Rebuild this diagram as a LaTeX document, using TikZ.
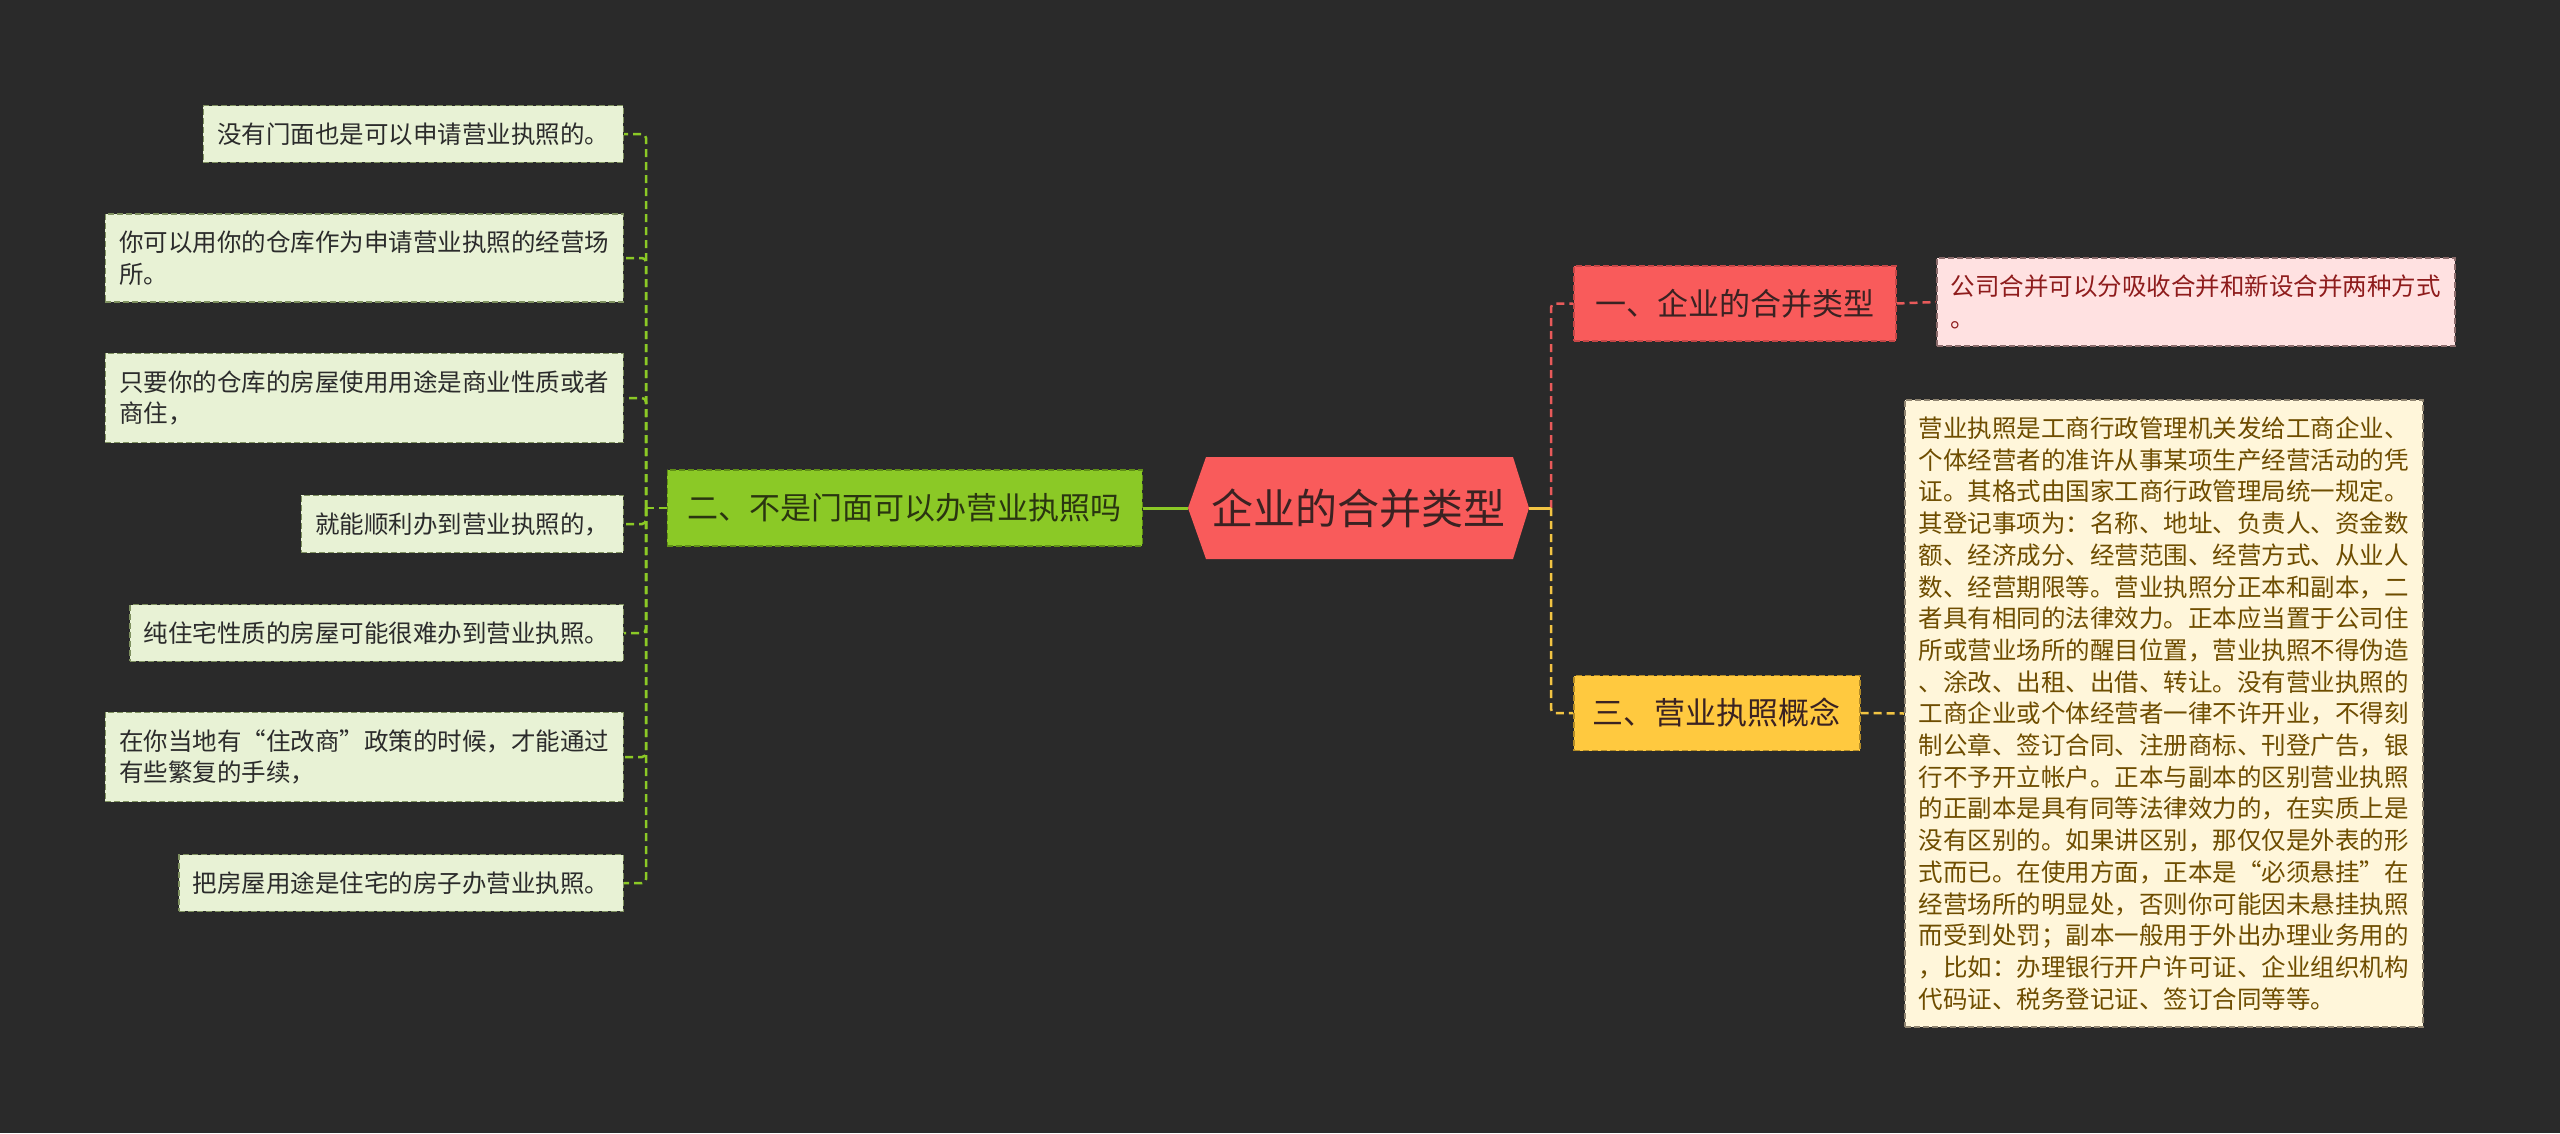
\documentclass[tikz,border=0pt]{standalone}
\usepackage{fontspec}
\setmainfont{Noto Sans CJK SC}[RawFeature={+fwid}]

\definecolor{bgdark}{HTML}{2A2A2A}
\definecolor{rootred}{HTML}{F95B5B}
\definecolor{roottext}{HTML}{3A2222}
\definecolor{redline}{HTML}{E85A5A}
\definecolor{redborder}{HTML}{C64646}
\definecolor{greenfill}{HTML}{8BC926}
\definecolor{greenborder}{HTML}{5F8E16}
\definecolor{greentext}{HTML}{2A3510}
\definecolor{yellowfill}{HTML}{FFC93F}
\definecolor{yellowborder}{HTML}{B38B26}
\definecolor{yellowline}{HTML}{F2C443}
\definecolor{leafbg}{HTML}{E8F2D5}
\definecolor{leafline}{HTML}{7F9160}
\definecolor{leaftext}{HTML}{2B2B2B}
\definecolor{pinkbg}{HTML}{FFE1E1}
\definecolor{pinkline}{HTML}{8C6C6C}
\definecolor{pinktext}{HTML}{8E1C1C}
\definecolor{notebg}{HTML}{FFF6DA}
\definecolor{noteline}{HTML}{8F8470}
\definecolor{notetext}{HTML}{6E4D00}

\tikzset{
  boxline/.style={line width=1.5pt, dash pattern=on 6pt off 3pt},
  leafbox/.style={boxline, draw=leafline, fill=leafbg, text=leaftext,
    font=\fontsize{24.5}{31.7}\selectfont, align=left, inner xsep=14pt, inner ysep=17pt},
  pinkbox/.style={leafbox, draw=pinkline, fill=pinkbg, text=pinktext},
  notebox/.style={leafbox, draw=noteline, fill=notebg, text=notetext},
  topicbox/.style={boxline, font=\fontsize{31}{36}\selectfont, minimum height=75pt, inner sep=0pt},
  redtopic/.style={topicbox, draw=redborder, fill=rootred, text=roottext},
  greentopic/.style={topicbox, draw=greenborder, fill=greenfill, text=greentext},
  yellowtopic/.style={topicbox, draw=yellowborder, fill=yellowfill, text=roottext},
  redlink/.style={redline, line width=2.5pt, dash pattern=on 8pt off 5pt},
  yellowlink/.style={yellowline, line width=2.5pt, dash pattern=on 8pt off 5pt},
  greenlink/.style={greenfill, line width=2.5pt, dash pattern=on 8pt off 5pt},
}

\begin{document}
\begin{tikzpicture}[x=1pt,y=-1pt]
        % Sfondo
        \fill[bgdark] (0,0) rectangle (2560,1133);
        \useasboundingbox (0,0) rectangle (2560,1133);
        % Centro
        \fill[rootred] (1188,508) -- (1206,457) -- (1513,457) -- (1529,508) -- (1513,559) -- (1206,559) -- cycle;
        \node[text=roottext, font=\fontsize{42}{48}\selectfont, minimum width=341pt, minimum height=102pt, inner sep=0pt] (root) at (1358.5,508) {企业的合并类型};
        % Rami
        \node[redtopic, anchor=west, minimum width=322pt] (type) at (1573,303.5) {一、企业的合并类型};
        \node[yellowtopic, anchor=west, minimum width=286pt] (concept) at (1573,713) {三、营业执照概念};
        \node[greentopic, anchor=east, minimum width=475pt, minimum height=76pt] (door) at (1143,508) {二、不是门面可以办营业执照吗};
        % Foglie
        \node[pinkbox, anchor=west] (merge) at (1936,302) {公司合并可以分吸收合并和新设合并两种方式\\。};
        \node[notebox, anchor=west] (license) at (1904,713.5) {营业执照是工商行政管理机关发给工商企业、\\个体经营者的准许从事某项生产经营活动的凭\\证。其格式由国家工商行政管理局统一规定。\\其登记事项为：名称、地址、负责人、资金数\\额、经济成分、经营范围、经营方式、从业人\\数、经营期限等。营业执照分正本和副本，二\\者具有相同的法律效力。正本应当置于公司住\\所或营业场所的醒目位置，营业执照不得伪造\\、涂改、出租、出借、转让。没有营业执照的\\工商企业或个体经营者一律不许开业，不得刻\\制公章、签订合同、注册商标、刊登广告，银\\行不予开立帐户。正本与副本的区别营业执照\\的正副本是具有同等法律效力的，在实质上是\\没有区别的。如果讲区别，那仅仅是外表的形\\式而已。在使用方面，正本是“必须悬挂”在\\经营场所的明显处，否则你可能因未悬挂执照\\而受到处罚；副本一般用于外出办理业务用的\\，比如：办理银行开户许可证、企业组织机构\\代码证、税务登记证、签订合同等等。};
        \node[leafbox, anchor=east] (l1) at (624,134) {没有门面也是可以申请营业执照的。};
        \node[leafbox, anchor=east] (l2) at (624,258) {你可以用你的仓库作为申请营业执照的经营场\\所。};
        \node[leafbox, anchor=east] (l3) at (624,398) {只要你的仓库的房屋使用用途是商业性质或者\\商住，};
        \node[leafbox, anchor=east] (l4) at (624,524) {就能顺利办到营业执照的，};
        \node[leafbox, anchor=east] (l5) at (624,633) {纯住宅性质的房屋可能很难办到营业执照。};
        \node[leafbox, anchor=east] (l6) at (624,757) {在你当地有“住改商”政策的时候，才能通过\\有些繁复的手续，};
        \node[leafbox, anchor=east] (l7) at (624,883) {把房屋用途是住宅的房子办营业执照。};
        % Collegamenti
        \coordinate (jr) at (1551,508);
        \coordinate (jl) at (646,508);
        \draw[redlink, rounded corners=4pt] (jr) |- (type.west);
        \draw[yellowlink, rounded corners=4pt] (jr) |- (concept.west);
        \draw[yellowline, line width=3pt] (root.east) -- (jr);
        \draw[redlink] (type.east) -- (merge.west);
        \draw[yellowlink] (concept.east) -- (license.west);
        \draw[greenfill, line width=3pt] (root.west) -- (door.east);
        \draw[greenlink] (door.west) -- (jl);
        \foreach \n in {1,...,7}
            \draw[greenlink, rounded corners=4pt] (jl) |- (l\n.east);
\end{tikzpicture}
\end{document}
